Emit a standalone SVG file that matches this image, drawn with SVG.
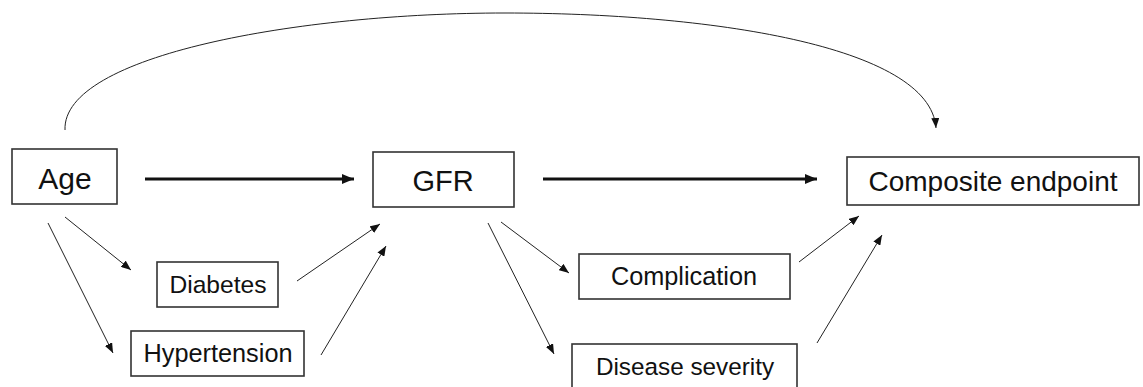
<svg xmlns="http://www.w3.org/2000/svg" width="1143" height="387" viewBox="0 0 1143 387">
<style>
.box{fill:#fff;stroke:#333;stroke-width:1.6}
.lbl{font-family:"Liberation Sans",Arial,sans-serif;fill:#111;text-anchor:middle}
.thin{fill:none;stroke:#222;stroke-width:1}
.thick{fill:none;stroke:#111;stroke-width:3.2}
</style>
<defs>
<marker id="ah" markerUnits="userSpaceOnUse" markerWidth="10" markerHeight="8" refX="10" refY="4" orient="auto">
<path d="M0,0 L10,4 L0,8 z" fill="#111"/>
</marker>
<marker id="ahb" markerUnits="userSpaceOnUse" markerWidth="12" markerHeight="10" refX="12" refY="5" orient="auto">
<path d="M0,0 L12,5 L0,10 z" fill="#111"/>
</marker>
</defs>
<rect width="1143" height="387" fill="#fff"/>
<g id="connectors">
<path class="thin" d="M65,130 C62,55 300,13 505,13 C705,13 930,45 936,128" marker-end="url(#ah)"/>
<line class="thick" x1="145" y1="179" x2="354" y2="179" marker-end="url(#ahb)"/>
<line class="thick" x1="543" y1="179" x2="817" y2="179" marker-end="url(#ahb)"/>
<line class="thin" x1="65" y1="217" x2="131" y2="270" marker-end="url(#ah)"/>
<line class="thin" x1="48" y1="223" x2="113" y2="353" marker-end="url(#ah)"/>
<line class="thin" x1="297" y1="281" x2="380" y2="224" marker-end="url(#ah)"/>
<line class="thin" x1="321" y1="355" x2="386" y2="246" marker-end="url(#ah)"/>
<line class="thin" x1="501" y1="222" x2="569" y2="273" marker-end="url(#ah)"/>
<line class="thin" x1="488" y1="223" x2="554" y2="354" marker-end="url(#ah)"/>
<line class="thin" x1="799" y1="262" x2="859" y2="216" marker-end="url(#ah)"/>
<line class="thin" x1="817" y1="343" x2="882" y2="235" marker-end="url(#ah)"/>
</g>
<g id="age">
<rect class="box" x="12" y="149" width="105" height="55"/>
<text class="lbl" x="65" y="189" font-size="30">Age</text>
</g>
<g id="gfr">
<rect class="box" x="373" y="152" width="141" height="55"/>
<text class="lbl" x="443" y="191" font-size="29">GFR</text>
</g>
<g id="composite">
<rect class="box" x="847" y="157" width="292" height="48"/>
<text class="lbl" x="993" y="191" font-size="28">Composite endpoint</text>
</g>
<g id="diabetes">
<rect class="box" x="157" y="262" width="121" height="45"/>
<text class="lbl" x="218" y="293" font-size="24.6">Diabetes</text>
</g>
<g id="hypertension">
<rect class="box" x="131" y="331" width="173" height="45"/>
<text class="lbl" x="218" y="362" font-size="25.3">Hypertension</text>
</g>
<g id="complication">
<rect class="box" x="579" y="254" width="211" height="45"/>
<text class="lbl" x="684" y="285" font-size="25.3">Complication</text>
</g>
<g id="disease-severity">
<rect class="box" x="572" y="344" width="225" height="60"/>
<text class="lbl" x="685" y="375" font-size="24.3">Disease severity</text>
</g>
</svg>
